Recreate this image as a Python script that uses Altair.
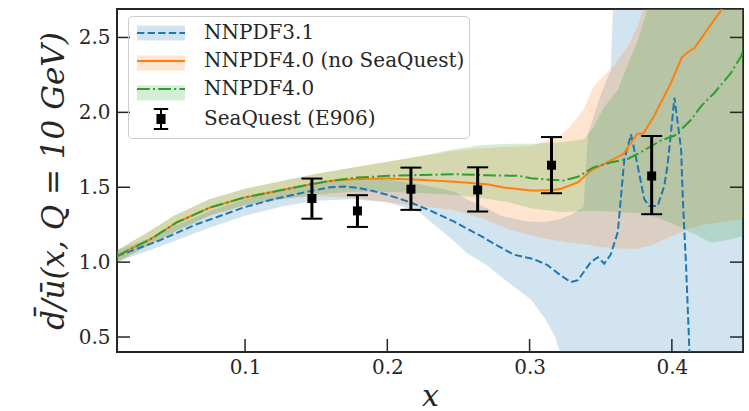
import altair as alt
import pandas as pd

# ---------------- data ----------------
NAMES = ["NNPDF3.1", "NNPDF4.0 (no SeaQuest)", "NNPDF4.0"]
SQ_NAME = "SeaQuest (E906)"

# central values
x_31 = [0.010, 0.020, 0.030, 0.040, 0.052, 0.065, 0.080, 0.099, 0.120, 0.146,
        0.160, 0.170, 0.180, 0.190, 0.200, 0.216, 0.230, 0.247, 0.2656, 0.2774,
        0.2889, 0.303, 0.3126, 0.322, 0.329, 0.334, 0.340, 0.343, 0.348, 0.3525,
        0.357, 0.362, 0.3666, 0.3713, 0.376, 0.3806, 0.3842, 0.390, 0.3947, 0.397,
        0.3994, 0.4018, 0.4065, 0.4077, 0.410, 0.4123, 0.414]
y_31 = [1.04, 1.075, 1.11, 1.145, 1.195, 1.25, 1.30, 1.365, 1.42, 1.475,
        1.50, 1.505, 1.495, 1.475, 1.45, 1.40, 1.345, 1.27, 1.175, 1.11,
        1.05, 1.02, 0.98, 0.91, 0.867, 0.88, 0.96, 1.00, 1.033, 0.99,
        1.05, 1.20, 1.687, 1.853, 1.642, 1.42, 1.375, 1.375, 1.51, 1.65,
        1.867, 2.098, 1.753, 1.42, 0.973, 0.42, 0.10]

x_40ns = [0.010, 0.020, 0.033, 0.052, 0.0755, 0.099, 0.1225, 0.146, 0.160, 0.1775,
          0.201, 0.224, 0.248, 0.270, 0.282, 0.290, 0.301, 0.315, 0.322, 0.334,
          0.343, 0.357, 0.366, 0.3755, 0.380, 0.387, 0.399, 0.407, 0.411, 0.416,
          0.425, 0.435, 0.450]
y_40ns = [1.04, 1.09, 1.15, 1.265, 1.365, 1.43, 1.475, 1.52, 1.542, 1.555,
          1.558, 1.549, 1.536, 1.52, 1.498, 1.49, 1.478, 1.48, 1.489, 1.533,
          1.611, 1.678, 1.722, 1.855, 1.86, 1.967, 2.19, 2.367, 2.40, 2.431,
          2.553, 2.687, 2.95]

x_40 = [0.010, 0.020, 0.033, 0.052, 0.0755, 0.099, 0.1225, 0.146, 0.160, 0.1775,
        0.201, 0.224, 0.248, 0.270, 0.2926, 0.301, 0.315, 0.324, 0.334, 0.345,
        0.357, 0.369, 0.380, 0.392, 0.402, 0.413, 0.4206, 0.430, 0.4416, 0.4487,
        0.451]
y_40 = [1.04, 1.09, 1.15, 1.265, 1.365, 1.43, 1.475, 1.52, 1.542, 1.564,
        1.576, 1.582, 1.587, 1.58, 1.576, 1.56, 1.55, 1.545, 1.57, 1.633,
        1.665, 1.689, 1.744, 1.811, 1.845, 1.945, 2.042, 2.131, 2.264, 2.375,
        2.44]

# uncertainty bands
bx_31 = [0.010, 0.030, 0.050, 0.075, 0.100, 0.125, 0.150, 0.175, 0.200, 0.209,
         0.223, 0.233, 0.247, 0.256, 0.270, 0.280, 0.294, 0.301, 0.311, 0.318,
         0.322, 0.330, 0.338, 0.341, 0.345, 0.350, 0.357, 0.359, 0.450]
lo_31 = [1.00, 1.07, 1.14, 1.23, 1.31, 1.37, 1.41, 1.42, 1.40, 1.375,
         1.33, 1.25, 1.14, 1.06, 0.98, 0.90, 0.80, 0.75, 0.62, 0.50,
         0.38, 0.30, 0.30, 0.30, 0.30, 0.30, 0.30, 0.30, 0.30]
hi_31 = [1.08, 1.15, 1.24, 1.34, 1.42, 1.48, 1.53, 1.56, 1.55, 1.54,
         1.52, 1.50, 1.47, 1.42, 1.36, 1.31, 1.28, 1.27, 1.27, 1.28,
         1.29, 1.32, 1.37, 1.85, 1.97, 2.12, 2.28, 2.80, 2.80]

bx_40ns = [0.010, 0.030, 0.050, 0.075, 0.100, 0.125, 0.150, 0.175, 0.200, 0.225,
           0.245, 0.265, 0.285, 0.301, 0.315, 0.322, 0.329, 0.338, 0.345, 0.352,
           0.359, 0.369, 0.376, 0.380, 0.385, 0.392, 0.411, 0.420, 0.430, 0.450]
lo_40ns = [1.00, 1.10, 1.20, 1.31, 1.38, 1.42, 1.44, 1.43, 1.40, 1.37,
           1.35, 1.30, 1.22, 1.18, 1.15, 1.14, 1.13, 1.12, 1.11, 1.10,
           1.095, 1.087, 1.09, 1.10, 1.11, 1.14, 1.22, 1.245, 1.26, 1.29]
hi_40ns = [1.08, 1.19, 1.31, 1.42, 1.49, 1.54, 1.59, 1.63, 1.67, 1.71,
           1.74, 1.76, 1.77, 1.775, 1.82, 1.85, 1.91, 2.02, 2.175, 2.242,
           2.31, 2.44, 2.575, 2.69, 2.85, 3.0, 3.0, 3.0, 3.0, 3.0]

bx_40 = [0.010, 0.030, 0.050, 0.075, 0.100, 0.125, 0.150, 0.175, 0.200, 0.225,
         0.245, 0.265, 0.285, 0.301, 0.322, 0.338, 0.345, 0.352, 0.362, 0.369,
         0.376, 0.382, 0.386, 0.400, 0.413, 0.428, 0.440, 0.450]
lo_40 = [1.00, 1.10, 1.20, 1.31, 1.38, 1.42, 1.45, 1.47, 1.47, 1.46,
         1.45, 1.43, 1.40, 1.36, 1.335, 1.34, 1.34, 1.34, 1.335, 1.33,
         1.33, 1.32, 1.31, 1.26, 1.20, 1.13, 1.15, 1.175]
hi_40 = [1.08, 1.19, 1.31, 1.42, 1.49, 1.54, 1.59, 1.63, 1.67, 1.71,
         1.75, 1.78, 1.79, 1.79, 1.80, 1.82, 1.90, 2.03, 2.15, 2.32,
         2.48, 2.66, 2.85, 3.0, 3.0, 3.0, 3.0, 3.0]

# SeaQuest (E906) points
sq_x = [0.147, 0.179, 0.2166, 0.2635, 0.3154, 0.3858]
sq_y = [1.425, 1.342, 1.487, 1.482, 1.647, 1.575]
sq_lo = [1.29, 1.235, 1.349, 1.338, 1.46, 1.32]
sq_hi = [1.558, 1.447, 1.631, 1.633, 1.835, 1.842]

x_ticks = [0.1, 0.2, 0.3, 0.4]
y_ticks = [0.5, 1.0, 1.5, 2.0, 2.5]

# ---------------- tables ----------------
line_df = pd.concat([
    pd.DataFrame({"x": x_31, "y": y_31, "series": NAMES[0]}),
    pd.DataFrame({"x": x_40ns, "y": y_40ns, "series": NAMES[1]}),
    pd.DataFrame({"x": x_40, "y": y_40, "series": NAMES[2]}),
], ignore_index=True)

band_df = pd.concat([
    pd.DataFrame({"x": bx_31, "lo": lo_31, "hi": hi_31, "series": NAMES[0]}),
    pd.DataFrame({"x": bx_40ns, "lo": lo_40ns, "hi": hi_40ns, "series": NAMES[1]}),
    pd.DataFrame({"x": bx_40, "lo": lo_40, "hi": hi_40, "series": NAMES[2]}),
], ignore_index=True)

sq_df = pd.DataFrame({"x": sq_x, "y": sq_y, "lo": sq_lo, "hi": sq_hi})
xt_df = pd.DataFrame({"v": x_ticks})
yt_df = pd.DataFrame({"v": y_ticks})

# ---------------- styling ----------------
W, H = 626, 343
TL = 13
FONT = "DejaVu Serif"
INK = "#262626"
C0, C1, C2 = "#1f77b4", "#ff7f0e", "#2ca02c"
BAND = ["rgba(31,119,180,0.2)", "rgba(255,127,14,0.2)", "rgba(44,160,44,0.2)"]

xs = alt.Scale(domain=[0.01, 0.45], nice=False, zero=False)
ys = alt.Scale(domain=[0.4, 2.69], nice=False, zero=False)

XAX = alt.Axis(values=x_ticks, format=".1f", tickSize=0, domain=False, grid=False,
               labelFont=FONT, labelFontSize=20, labelColor=INK, labelPadding=5,
               title="x", titleFont=FONT, titleFontStyle="italic",
               titleFontWeight="normal", titleFontSize=30, titleColor=INK,
               titlePadding=4)
YAX = alt.Axis(values=y_ticks, format=".1f", tickSize=0, domain=False, grid=False,
               labelFont=FONT, labelFontSize=20, labelColor=INK, labelPadding=7,
               title="d\u0304/\u016b(x, Q = 10 GeV)", titleFont=FONT,
               titleFontStyle="italic", titleFontWeight="normal",
               titleFontSize=31, titleColor=INK, titlePadding=8)


def X(f):
    return alt.X(f, type="quantitative", scale=xs, axis=XAX)


def Y(f):
    return alt.Y(f, type="quantitative", scale=ys, axis=YAX)


# legend symbols: unit = 12 px (symbolSize 576)
LINE_SYM = "M-2,0H2"
BAND_SYM = "M-2,-0.62H2V0.62H-2Z"
GLYPH = ("M-0.6,-0.84H0.6M-0.6,0.84H0.6M0,-0.84V0.84"
         "M-0.38,-0.34H0.38M-0.38,-0.17H0.38M-0.38,0H0.38"
         "M-0.38,0.17H0.38M-0.38,0.34H0.38")

LEG_COMMON = dict(title=None, orient="none", legendX=11, legendY=7,
                  symbolSize=576, symbolStrokeWidth=2, symbolOffset=16,
                  labelFont=FONT, labelFontSize=20, labelLimit=400,
                  labelOffset=30, rowPadding=5, padding=4)

# band swatches (drawn behind the line symbols, no text of their own)
LEG_A = alt.Legend(symbolType=BAND_SYM,
                   symbolStrokeColor="transparent", labelExpr="''",
                   **LEG_COMMON)
LEG_B = alt.Legend(symbolType={"expr": "datum.label == '" + SQ_NAME + "' ? '" + GLYPH + "' : '" + LINE_SYM + "'"},
                   labelColor=INK, strokeColor="#cccccc", cornerRadius=4,
                   **LEG_COMMON)

ALL = NAMES + [SQ_NAME]

bands = alt.Chart(band_df).mark_area(clip=True, opacity=1).encode(
    x=X("x"), y=Y("lo"), y2="hi",
    fill=alt.Fill("series:N", scale=alt.Scale(domain=NAMES, range=BAND), legend=LEG_A),
)

lines = alt.Chart(line_df).mark_line(clip=True, strokeWidth=2).encode(
    x=X("x"), y=Y("y"),
    color=alt.Color("series:N", scale=alt.Scale(domain=ALL, range=[C0, C1, C2, "black"]),
                    legend=LEG_B),
    strokeDash=alt.StrokeDash("series:N",
                              scale=alt.Scale(domain=ALL,
                                              range=[[7.4, 3.2], [1, 0], [12.8, 3.2, 2, 3.2], [1, 0]]),
                              legend=LEG_B),
)

err = alt.Chart(sq_df).mark_rule(color="black", strokeWidth=3).encode(
    x=X("x"), y=Y("lo"), y2="hi")
cap_lo = alt.Chart(sq_df).mark_tick(color="black", orient="horizontal", size=21,
                                    thickness=2, opacity=1).encode(x=X("x"), y=Y("lo"))
cap_hi = alt.Chart(sq_df).mark_tick(color="black", orient="horizontal", size=21,
                                    thickness=2, opacity=1).encode(x=X("x"), y=Y("hi"))
pts = alt.Chart(sq_df).mark_square(color="black", size=81, filled=True, opacity=1).encode(
    x=X("x"), y=Y("y"))

tick_l = alt.Chart(yt_df).mark_rule(color=INK, strokeWidth=1.5).encode(
    y=Y("v"), x=alt.value(0), x2=alt.value(TL))
tick_r = alt.Chart(yt_df).mark_rule(color=INK, strokeWidth=1.5).encode(
    y=Y("v"), x=alt.value(W - TL), x2=alt.value(W))
tick_b = alt.Chart(xt_df).mark_rule(color=INK, strokeWidth=1.5).encode(
    x=X("v"), y=alt.value(H - TL), y2=alt.value(H))

chart = alt.layer(bands, lines, err, cap_lo, cap_hi, pts, tick_l, tick_r, tick_b).properties(
    width=W, height=H,
    padding={"left": 117, "top": 9, "right": 6, "bottom": 59},
    autosize=alt.AutoSizeParams(type="none"),
).configure_view(stroke=INK, strokeWidth=2)

chart.save("out.html", embed_options={"renderer": "svg", "actions": False})
